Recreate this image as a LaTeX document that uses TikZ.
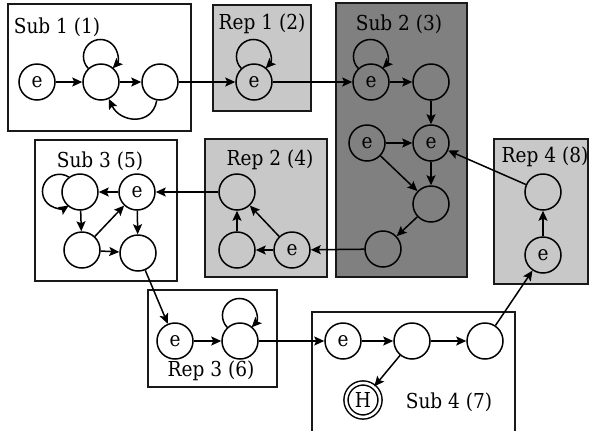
\documentclass[tikz,border=0pt]{standalone}
\usepackage{fontspec}
\setmainfont{DejaVu Serif Condensed}
\usetikzlibrary{arrows.meta}
\definecolor{repgray}{RGB}{200,200,200}
\definecolor{subdark}{RGB}{128,128,128}
\begin{document}
\begin{tikzpicture}[x=0.5pt,y=-0.5pt,
  txt/.style={font=\fontsize{10.3}{12}\selectfont},
  st/.style={circle,draw,line width=0.75pt,minimum size=18pt,inner sep=0pt,txt},
  fin/.style={st,double,double distance=1.3pt,minimum size=17pt},
  subbox/.style={draw=black!90,line width=1pt,fill=white},
  repbox/.style={draw=black!90,line width=1pt,fill=repgray},
  darkbox/.style={draw=black!90,line width=1pt,fill=subdark},
  ttl/.style={txt,anchor=base,inner sep=0pt},
  tr/.style={-{Stealth[length=5pt,width=4.5pt,inset=1pt]},line width=0.75pt}
]
\useasboundingbox (0,0) rectangle (590,430);
\clip (0,0) rectangle (590,430);
% boxes
\draw[subbox] (8,4) rectangle (191,131);
\draw[repbox] (213,5) rectangle (311,111);
\draw[darkbox] (336,3) rectangle (467,277);
\draw[subbox] (35,140) rectangle (177,281);
\draw[repbox] (205,139) rectangle (327,277);
\draw[repbox] (494,139) rectangle (588,284);
\draw[subbox] (148,290) rectangle (277,387);
\draw[subbox] (312,312) rectangle (515,445);
% titles
\node[ttl] (t1) at (57,33) {Sub 1 (1)};
\node[ttl] (t2) at (262,29) {Rep 1 (2)};
\node[ttl] (t3) at (399,30) {Sub 2 (3)};
\node[ttl] (t5) at (100,167) {Sub 3 (5)};
\node[ttl] (t4) at (270,165) {Rep 2 (4)};
\node[ttl] (t8) at (545,162) {Rep 4 (8)};
\node[ttl] (t6) at (211,376) {Rep 3 (6)};
\node[ttl] (t7) at (449,408) {Sub 4 (7)};
% nodes
\node[st] (s1e) at (37,82) {e};
\node[st] (s1a) at (101,82) {};
\node[st] (s1b) at (160,82) {};
\node[st] (r1e) at (254,82) {e};
\node[st] (s2e1) at (371,82) {e};
\node[st] (s2a) at (431,82) {};
\node[st] (s2e2) at (431,143) {e};
\node[st] (s2e3) at (367,143) {e};
\node[st] (s2b) at (431,204) {};
\node[st] (s2c) at (383,249) {};
\node[st] (r2t) at (237,192) {};
\node[st] (r2l) at (237,250) {};
\node[st] (r2e) at (292,250) {e};
\node[st] (s3tl) at (80,192) {};
\node[st] (s3e) at (137,192) {e};
\node[st] (s3ml) at (82,250) {};
\node[st] (s3mr) at (138,253) {};
\node[st] (r3e) at (175,341) {e};
\node[st] (r3n) at (240,341) {};
\node[st] (s4e) at (343,341) {e};
\node[st] (s4a) at (412,341) {};
\node[st] (s4b) at (485,341) {};
\node[fin] (s4h) at (363,400) {H};
\node[st] (r4t) at (543,192) {};
\node[st] (r4e) at (543,255) {e};
% edges
\draw[tr] (s1e) -- (s1a);
\draw[tr] (s1a) -- (s1b);
\draw[tr] (s1a.133) arc[start angle=136,end angle=404,radius=17];
\draw[tr] (s1b) to[out=-100,in=-65,looseness=1.4] (s1a);
\draw[tr] (s1b) -- (r1e);
\draw[tr] (r1e.133) arc[start angle=136,end angle=404,radius=17];
\draw[tr] (r1e) -- (s2e1);
\draw[tr] (s2e1.133) arc[start angle=136,end angle=404,radius=17];
\draw[tr] (s2e1) -- (s2a);
\draw[tr] (s2a) -- (s2e2);
\draw[tr] (s2e3) -- (s2e2);
\draw[tr] (s2e3) -- (s2b);
\draw[tr] (s2e2) -- (s2b);
\draw[tr] (s2b) -- (s2c);
\draw[tr] (s2c) -- (r2e);
\draw[tr] (r2e) -- (r2l);
\draw[tr] (r2l) -- (r2t);
\draw[tr] (r2e) -- (r2t);
\draw[tr] (r2t) -- (s3e);
\draw[tr] (s3e) -- (s3tl);
\draw[tr] (s3tl.127) arc[start angle=-57,end angle=-303,radius=17];
\draw[tr] (s3tl) -- (s3ml);
\draw[tr] (s3ml) -- (s3e);
\draw[tr] (s3ml) -- (s3mr);
\draw[tr] (s3e) -- (s3mr);
\draw[tr] (s3mr) -- (r3e);
\draw[tr] (r3e) -- (r3n);
\draw[tr] (r3n.133) arc[start angle=136,end angle=404,radius=17];
\draw[tr] (r3n) -- (s4e);
\draw[tr] (s4e) -- (s4a);
\draw[tr] (s4a) -- (s4b);
\draw[tr] (s4a) -- (s4h);
\draw[tr] (s4b) -- (r4e);
\draw[tr] (r4e) -- (r4t);
\draw[tr] (r4t) -- (s2e2);
\end{tikzpicture}
\end{document}
